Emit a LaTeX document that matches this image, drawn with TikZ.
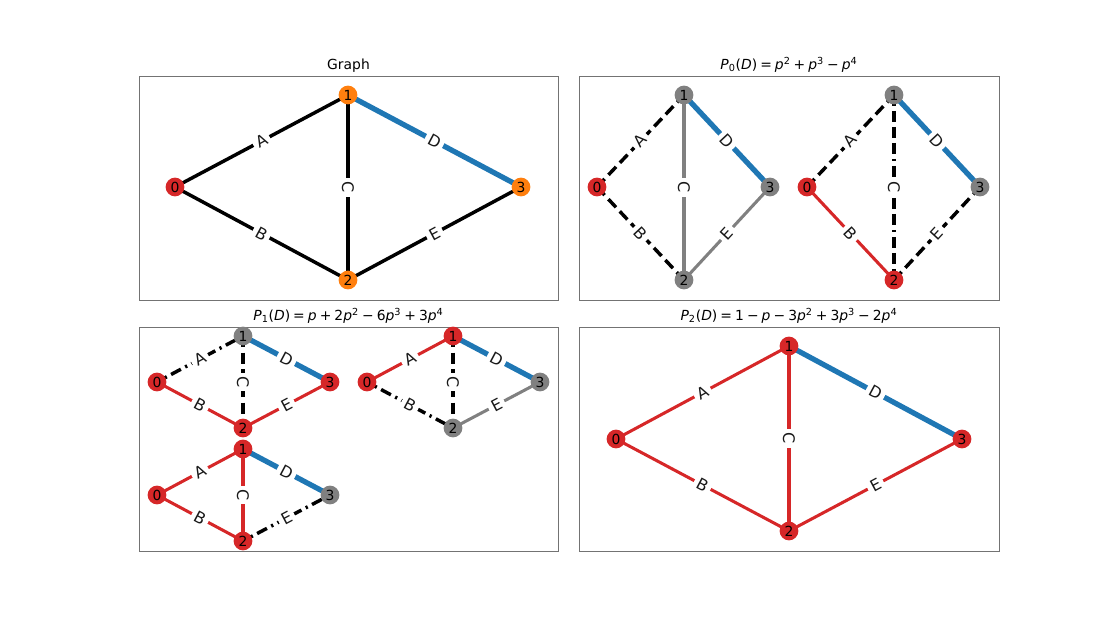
\documentclass[tikz,border=0pt]{standalone}
\usepackage{fontspec}
\setmainfont{DejaVu Sans}
\definecolor{tred}{HTML}{D62728}
\definecolor{torange}{HTML}{FF7F0E}
\definecolor{tblue}{HTML}{1F77B4}
\definecolor{tgray}{HTML}{808080}
\pgfdeclarelayer{bg}
\pgfsetlayers{bg,main}
\newcommand\op[1]{\hspace{0.22em}#1\hspace{0.22em}}
\tikzset{
  vtx/.style={circle, minimum size=13.5pt, inner sep=0pt, font=\fontsize{10}{12}\selectfont},
  vred/.style={vtx, fill=tred},
  vor/.style={vtx, fill=torange},
  vgr/.style={vtx, fill=tgray},
  elab/.style={fill=white, inner sep=2.6pt, font=\fontsize{11.5}{13}\selectfont, text=black!90, sloped, midway},
  clab/.style={fill=white, inner sep=2.6pt, font=\fontsize{11.5}{13}\selectfont, text=black!90, rotate=-90, midway},
  ek/.style={draw=black, line width=2.5pt},
  ekd/.style={ek, dash pattern=on 8pt off 4pt},
  ekdd/.style={ek, dash pattern=on 8pt off 3.5pt on 8pt off 3.5pt on 1.6pt off 3.5pt},
  ekdc/.style={ek, dash pattern=on 8pt off 3.5pt on 8pt off 3.5pt on 8pt off 3.5pt on 8pt off 3.5pt on 1.6pt off 3.5pt},
  er/.style={draw=tred, line width=2.2pt},
  eg/.style={draw=tgray, line width=2.2pt},
  eb/.style={draw=tblue, line width=3.8pt},
  frame/.style={draw=black!55, line width=0.7pt},
  ttl/.style={anchor=base, font=\fontsize{10}{12}\selectfont},
}
\begin{document}
\begin{tikzpicture}[x=0.72pt, y=-0.72pt]
\useasboundingbox (0,0) rectangle (1110,630);

% frames
\draw[frame] (139,76) rectangle (558,300);
\draw[frame] (579,76) rectangle (999,300);
\draw[frame] (139,327) rectangle (558,551);
\draw[frame] (579,327) rectangle (999,551);

% titles
\node[ttl] (t0) at (348.5,69.5) {Graph};
\node[ttl] (t1) at (789,69.5) {\textit{P}\textsubscript{0}(\textit{D})\op{=}\textit{p}\textsuperscript{2}\op{+}\textit{p}\textsuperscript{3}\op{−}\textit{p}\textsuperscript{4}};
\node[ttl] (t2) at (348.5,320.5) {\textit{P}\textsubscript{1}(\textit{D})\op{=}\textit{p}\op{+}2\textit{p}\textsuperscript{2}\op{−}6\textit{p}\textsuperscript{3}\op{+}3\textit{p}\textsuperscript{4}};
\node[ttl] (t3) at (789,320.5) {\textit{P}\textsubscript{2}(\textit{D})\op{=}1\op{−}\textit{p}\op{−}3\textit{p}\textsuperscript{2}\op{+}3\textit{p}\textsuperscript{3}\op{−}2\textit{p}\textsuperscript{4}};

% ---------- Graph (top-left)
\node[vred] (g0) at (175,187) {0};
\node[vor]  (g1) at (348,95) {1};
\node[vor]  (g2) at (348,280) {2};
\node[vor]  (g3) at (521,187) {3};
\begin{pgfonlayer}{bg}
\draw[ek] (g0.center) -- node[elab] {A} (g1.center);
\draw[ek] (g0.center) -- node[elab] {B} (g2.center);
\draw[ek] (g1.center) -- node[clab] {C} (g2.center);
\draw[eb] (g1.center) -- node[elab] {D} (g3.center);
\draw[ek] (g2.center) -- node[elab] {E} (g3.center);
\end{pgfonlayer}

% ---------- P0 first
\node[vred] (a0) at (597,187) {0};
\node[vgr]  (a1) at (684,95) {1};
\node[vgr]  (a2) at (684,280) {2};
\node[vgr]  (a3) at (770,187) {3};
\begin{pgfonlayer}{bg}
\draw[ekd] (a0.center) -- node[elab] {A} (a1.center);
\draw[ekd] (a0.center) -- node[elab] {B} (a2.center);
\draw[eg]  (a1.center) -- node[clab] {C} (a2.center);
\draw[eb]  (a1.center) -- node[elab] {D} (a3.center);
\draw[eg]  (a2.center) -- node[elab] {E} (a3.center);
\end{pgfonlayer}

% ---------- P0 second
\node[vred] (b0) at (807,187) {0};
\node[vgr]  (b1) at (894,95) {1};
\node[vred] (b2) at (894,280) {2};
\node[vgr]  (b3) at (980,187) {3};
\begin{pgfonlayer}{bg}
\draw[ekd] (b0.center) -- node[elab] {A} (b1.center);
\draw[er]  (b0.center) -- node[elab] {B} (b2.center);
\draw[ekdc] (b1.center) -- node[clab] {C} (b2.center);
\draw[eb]  (b1.center) -- node[elab] {D} (b3.center);
\draw[ekd] (b2.center) -- node[elab] {E} (b3.center);
\end{pgfonlayer}

% ---------- P1 first
\node[vred] (c0) at (157,382) {0};
\node[vgr]  (c1) at (243,336) {1};
\node[vred] (c2) at (243,428) {2};
\node[vred] (c3) at (330,382) {3};
\begin{pgfonlayer}{bg}
\draw[ekdd] (c0.center) -- node[elab] {A} (c1.center);
\draw[er]  (c0.center) -- node[elab] {B} (c2.center);
\draw[ekd] (c1.center) -- node[clab] {C} (c2.center);
\draw[eb]  (c1.center) -- node[elab] {D} (c3.center);
\draw[er]  (c2.center) -- node[elab] {E} (c3.center);
\end{pgfonlayer}

% ---------- P1 second
\node[vred] (d0) at (367,382) {0};
\node[vred] (d1) at (453,336) {1};
\node[vgr]  (d2) at (453,428) {2};
\node[vgr]  (d3) at (540,382) {3};
\begin{pgfonlayer}{bg}
\draw[er]  (d0.center) -- node[elab] {A} (d1.center);
\draw[ekdd] (d0.center) -- node[elab] {B} (d2.center);
\draw[ekd] (d1.center) -- node[clab] {C} (d2.center);
\draw[eb]  (d1.center) -- node[elab] {D} (d3.center);
\draw[eg]  (d2.center) -- node[elab] {E} (d3.center);
\end{pgfonlayer}

% ---------- P1 third
\node[vred] (e0) at (157,495) {0};
\node[vred] (e1) at (243,449) {1};
\node[vred] (e2) at (243,541) {2};
\node[vgr]  (e3) at (330,495) {3};
\begin{pgfonlayer}{bg}
\draw[er]  (e0.center) -- node[elab] {A} (e1.center);
\draw[er]  (e0.center) -- node[elab] {B} (e2.center);
\draw[er]  (e1.center) -- node[clab] {C} (e2.center);
\draw[eb]  (e1.center) -- node[elab] {D} (e3.center);
\draw[ekdd] (e2.center) -- node[elab] {E} (e3.center);
\end{pgfonlayer}

% ---------- P2
\node[vred] (f0) at (616,439) {0};
\node[vred] (f1) at (789,346) {1};
\node[vred] (f2) at (789,531) {2};
\node[vred] (f3) at (962,439) {3};
\begin{pgfonlayer}{bg}
\draw[er] (f0.center) -- node[elab] {A} (f1.center);
\draw[er] (f0.center) -- node[elab] {B} (f2.center);
\draw[er] (f1.center) -- node[clab] {C} (f2.center);
\draw[eb] (f1.center) -- node[elab] {D} (f3.center);
\draw[er] (f2.center) -- node[elab] {E} (f3.center);
\end{pgfonlayer}
\end{tikzpicture}
\end{document}
